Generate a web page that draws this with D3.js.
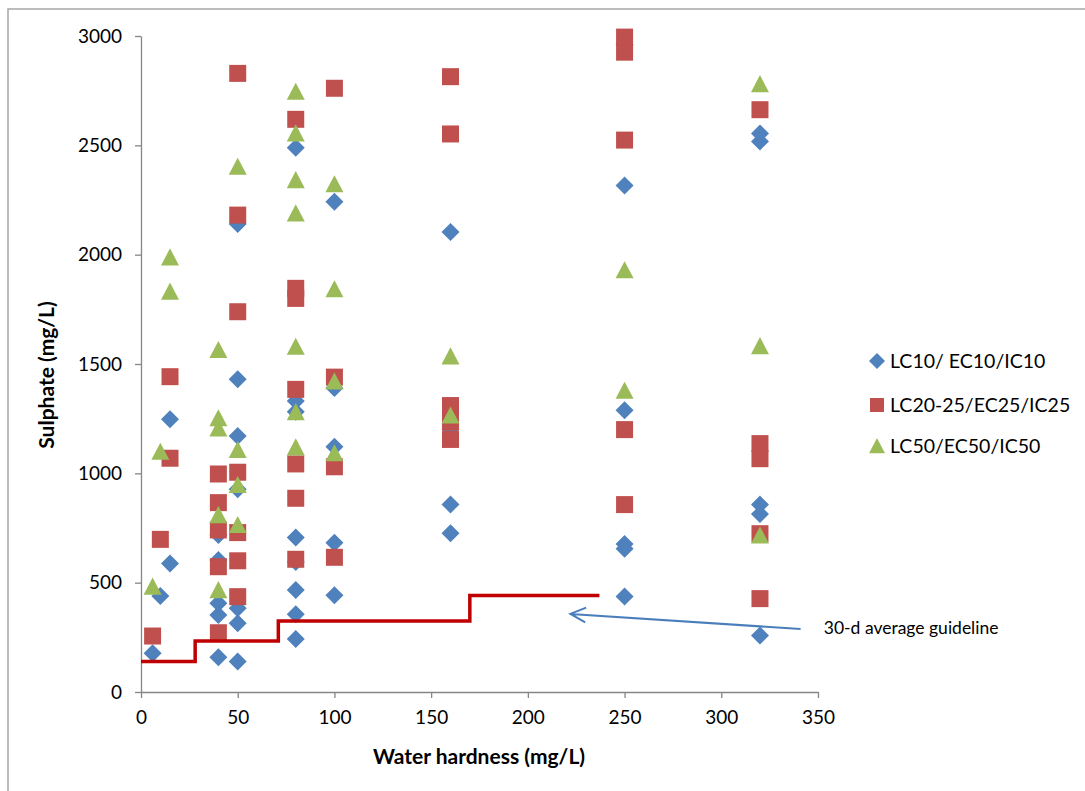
<!DOCTYPE html>
<html>
<head>
<meta charset="utf-8">
<script src="https://cdn.jsdelivr.net/npm/d3@7"></script>
<style>
  body { margin: 0; background: #fff; }
  svg { display: block; font-family: Lato, 'Open Sans', sans-serif; }
  .axis path, .axis line { stroke: #868686; stroke-width: 1.3; }
  .axis text { font-size: 19px; fill: #000; font-family: Lato, 'Open Sans', sans-serif; }
  .axis-title { font-size: 21px; font-weight: bold; fill: #000; }
  .legend text { font-size: 19.5px; fill: #000; }
  .note { font-size: 17.5px; fill: #000; }
</style>
</head>
<body>
<svg id="chart"></svg>
<script>
// LC10 / EC10 / IC10 (blue diamonds)
const lc10Hardness = [6, 10, 15, 15, 40, 40, 40, 40, 40, 50, 50, 50, 50, 50, 50, 50,
  80, 80, 80, 80, 80, 80, 80, 80, 100, 100, 100, 100, 100, 160, 160, 160, 160,
  250, 250, 250, 250, 250, 250, 320, 320, 320, 320, 320];
const lc10Sulphate = [177, 439, 588, 1247, 159, 352, 406, 604, 718, 139, 314, 383, 927, 1171, 1430, 2140,
  242, 355, 466, 595, 707, 1282, 1331, 2489, 443, 683, 1122, 1390, 2242, 726, 858, 1200, 2104,
  437, 655, 677, 1289, 2316, 2960, 258, 814, 857, 2518, 2554];

// LC20-25 / EC25 / IC25 (red squares)
const lc25Hardness = [6, 10, 15, 15, 40, 40, 40, 40, 40, 50, 50, 50, 50, 50, 50, 50,
  80, 80, 80, 80, 80, 80, 80, 100, 100, 100, 100, 160, 160, 160, 160, 160,
  250, 250, 250, 250, 250, 320, 320, 320, 320, 320];
const lc25Sulphate = [256, 698, 1069, 1442, 271, 573, 741, 866, 997, 436, 600, 729, 1005, 1739, 2181, 2829,
  607, 886, 1043, 1384, 1800, 1846, 2619, 616, 1030, 1440, 2761, 1155, 1235, 1310, 2552, 2814,
  857, 1200, 2524, 2926, 2995, 427, 724, 1067, 1136, 2663];

// LC50 / EC50 / IC50 (green triangles)
const lc50Hardness = [6, 10, 15, 15, 40, 40, 40, 40, 40, 50, 50, 50, 50,
  80, 80, 80, 80, 80, 80, 80, 100, 100, 100, 100, 160, 160, 250, 250, 320, 320, 320];
const lc50Sulphate = [482, 1099, 1831, 1988, 466, 809, 1206, 1252, 1564, 764, 947, 1107, 2402,
  1119, 1280, 1579, 2189, 2341, 2555, 2745, 1092, 1420, 1842, 2322, 1265, 1535, 1378, 1929, 716, 1582, 2780];

// 30-d average guideline (step line)
const guideHardness = [0, 28, 71, 170, 237];
const guideSulphate = [139, 233, 325, 441, 441];

const seriesNames = ['LC10/ EC10/IC10', 'LC20-25/EC25/IC25', 'LC50/EC50/IC50'];
const xTicks = [0, 50, 100, 150, 200, 250, 300, 350];
const yTicks = [0, 500, 1000, 1500, 2000, 2500, 3000];

const colors = ['#4f81bd', '#c0504d', '#9bbb59'];

const containerWidth = 1085, containerHeight = 791;
const margin = {top: 36, right: 267, bottom: 99, left: 141};
const width = containerWidth - margin.left - margin.right;
const height = containerHeight - margin.top - margin.bottom;

const svg = d3.select('#chart')
    .attr('width', containerWidth)
    .attr('height', containerHeight);

// outer chart frame (only top and left edges visible in the crop)
svg.append('path')
    .attr('d', `M8,${containerHeight} V9 H${containerWidth}`)
    .attr('fill', 'none')
    .attr('stroke', '#a6a6a6')
    .attr('stroke-width', 1.5);

const chart = svg.append('g')
    .attr('transform', `translate(${margin.left},${margin.top})`);

const xScale = d3.scaleLinear().domain([0, 350]).range([0, width]);
const yScale = d3.scaleLinear().domain([0, 3000]).range([height, 0]);

const xAxis = d3.axisBottom(xScale).tickValues(xTicks).tickSize(6).tickSizeOuter(0)
    .tickPadding(13).tickFormat(d3.format('d'));
const yAxis = d3.axisLeft(yScale).tickValues(yTicks).tickSize(6).tickSizeOuter(0)
    .tickPadding(13).tickFormat(d3.format('d'));

chart.append('g')
    .attr('class', 'axis x-axis')
    .attr('transform', `translate(0,${height})`)
    .call(xAxis);

chart.append('g')
    .attr('class', 'axis y-axis')
    .call(yAxis);

// axis titles
chart.append('text')
    .attr('class', 'axis-title')
    .attr('x', 338)
    .attr('y', height + 72)
    .attr('text-anchor', 'middle')
    .text('Water hardness (mg/L)');

chart.append('text')
    .attr('class', 'axis-title')
    .attr('transform', `translate(-87,${height / 2 + 11}) rotate(-90)`)
    .attr('text-anchor', 'middle')
    .text('Sulphate (mg/L)');

// marker shapes, r = half width in px
function shapePath(kind, r) {
  if (kind === 0) return `M0,${-r}L${r},0L0,${r}L${-r},0Z`;
  if (kind === 1) return `M${-r},${-r}H${r}V${r}H${-r}Z`;
  return `M0,${-r}L${r},${r * 0.9}L${-r},${r * 0.9}Z`;
}

const seriesData = [
  d3.zip(lc10Hardness, lc10Sulphate),
  d3.zip(lc25Hardness, lc25Sulphate),
  d3.zip(lc50Hardness, lc50Sulphate)
];
const markerSize = [9, 8.5, 9];

seriesData.forEach((pts, i) => {
  chart.append('g')
      .attr('class', 'series series-' + i)
      .selectAll('path')
      .data(pts)
    .join('path')
      .attr('transform', d => `translate(${xScale(d[0])},${yScale(d[1])})`)
      .attr('d', shapePath(i, markerSize[i]))
      .attr('fill', colors[i]);
});

const guideLine = d3.line()
    .x(d => xScale(d[0]))
    .y(d => yScale(d[1]))
    .curve(d3.curveStepAfter);

chart.append('path')
    .datum(d3.zip(guideHardness, guideSulphate))
    .attr('d', guideLine)
    .attr('fill', 'none')
    .attr('stroke', '#c00000')
    .attr('stroke-width', 3.5);

// arrow pointing at the guideline
const tail = [xScale(341), yScale(288)];
const head = [xScale(222), yScale(357)];
const ang = Math.atan2(tail[1] - head[1], tail[0] - head[0]);
const arm = 17, spread = 0.45;
chart.append('path')
    .attr('d', `M${tail[0]},${tail[1]}L${head[0]},${head[1]}` +
      `M${head[0] + arm * Math.cos(ang - spread)},${head[1] + arm * Math.sin(ang - spread)}` +
      `L${head[0]},${head[1]}` +
      `L${head[0] + arm * Math.cos(ang + spread)},${head[1] + arm * Math.sin(ang + spread)}`)
    .attr('fill', 'none')
    .attr('stroke', '#4a7ebb')
    .attr('stroke-width', 2);

chart.append('text')
    .attr('class', 'note')
    .attr('x', xScale(353))
    .attr('y', yScale(265))
    .text('30-d average guideline');

// legend
const legend = svg.append('g')
    .attr('class', 'legend')
    .attr('transform', 'translate(877,361)');

const legendRows = legend.selectAll('g')
    .data(seriesNames)
  .join('g')
    .attr('transform', (d, i) => `translate(0,${[0, 44, 85][i]})`);

legendRows.append('path')
    .attr('d', (d, i) => shapePath(i, [8, 7, 8][i]))
    .attr('fill', (d, i) => colors[i]);

legendRows.append('text')
    .attr('x', 13)
    .attr('y', 7)
    .text(d => d);
</script>
</body>
</html>
